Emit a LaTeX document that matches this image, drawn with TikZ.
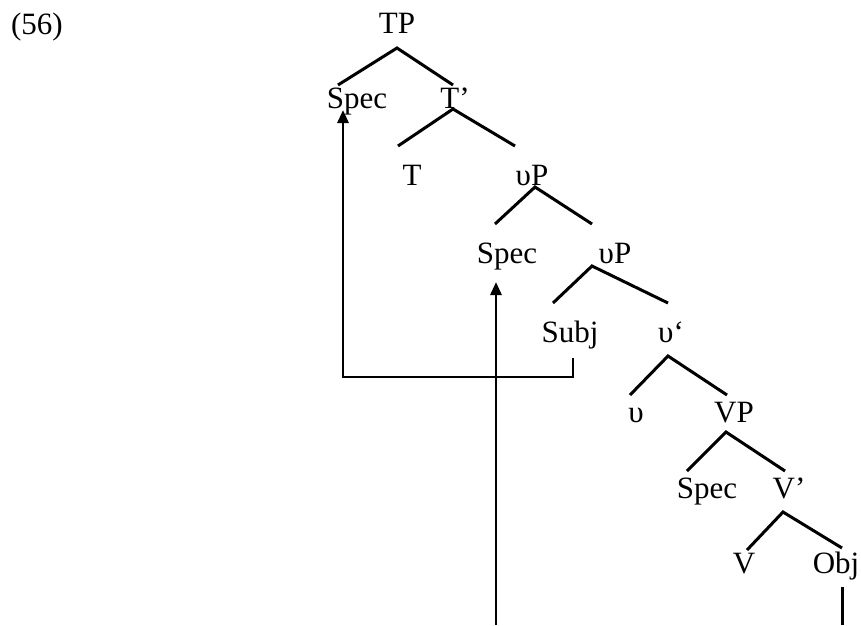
\documentclass[tikz,border=0pt]{standalone}
\usepackage{fontspec}
\setmainfont{Liberation Serif}
\usetikzlibrary{arrows.meta}
\begin{document}
\begin{tikzpicture}[x=1pt,y=-1pt,
  lbl/.style={anchor=base,inner sep=0pt,font=\fontsize{31}{36}\selectfont},
  edge/.style={line width=3pt},
  move/.style={line width=2.8pt,-{Triangle[width=11pt,length=13pt]}}]
\useasboundingbox (0,0) rectangle (861,625);
% labels
\node[lbl] (ex) at (37,34) {(56)};
\node[lbl] (TP) at (397,33) {TP};
\node[lbl] (spec1) at (357,108) {Spec};
\node[lbl] (Tb) at (455,108) {T’};
\node[lbl] (T) at (412,185) {T};
\node[lbl] (vP1) at (532,185) {υP};
\node[lbl] (spec2) at (507,263) {Spec};
\node[lbl] (vP2) at (615,263) {υP};
\node[lbl] (subj) at (570,342) {Subj};
\node[lbl] (vb) at (671,342) {υ‘};
\node[lbl] (v) at (636,422) {υ};
\node[lbl] (VP) at (734,422) {VP};
\node[lbl] (spec3) at (707,498) {Spec};
\node[lbl] (Vb) at (789,498) {V’};
\node[lbl] (V) at (744,573) {V};
\node[lbl] (obj) at (836,573) {Obj};
% tree edges
\coordinate (aTP) at (397,48);
\draw[edge] (338,85) -- (aTP) -- (453,85);
\coordinate (aTb) at (453,109);
\draw[edge] (398,146) -- (aTb) -- (515,146);
\coordinate (avP1) at (535,187);
\draw[edge] (495,224) -- (avP1) -- (592,224);
\coordinate (avP2) at (592,266);
\draw[edge] (553,303) -- (avP2) -- (668,303);
\coordinate (avb) at (668,356);
\draw[edge] (630,395) -- (avb) -- (727,395);
\coordinate (aVP) at (726,432);
\draw[edge] (687,471) -- (aVP) -- (785,471);
\coordinate (aVb) at (783,512);
\draw[edge] (747,550) -- (aVb) -- (842,548);
% movement arrows
\coordinate (s1) at (573,358);
\coordinate (c1) at (573,377);
\coordinate (c2) at (343,377);
\draw[move] (s1) -- (c1) -- (c2) -- (343,110);
\coordinate (b1) at (496,625);
\draw[move] (b1) -- (496,282);
\coordinate (b2) at (842,587);
\draw[edge] (b2) -- (842,625);
\end{tikzpicture}
\end{document}
